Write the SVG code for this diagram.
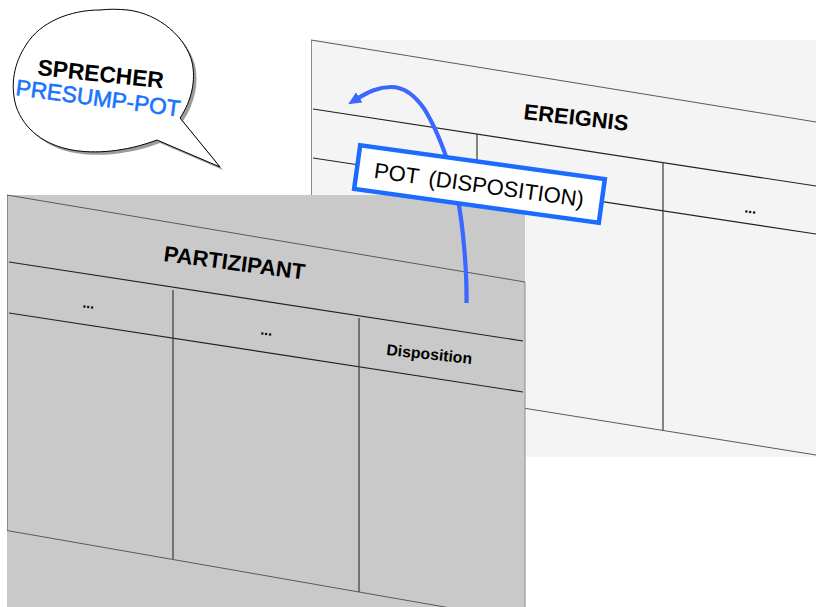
<svg xmlns="http://www.w3.org/2000/svg" width="816" height="607" viewBox="0 0 816 607">
  <style>
    .panel-edge { stroke: #8c8c8c; stroke-width: 1; fill: none; }
    .outer { stroke: #5a5a5a; stroke-width: 1; fill: none; }
    .inner { stroke: #222; stroke-width: 1.2; fill: none; }
    .divider { stroke: #3a3a3a; stroke-width: 1.2; fill: none; }
    .title { font-family: "Liberation Sans", Arial, sans-serif; font-weight: bold; font-size: 22px; fill: #000; }
    .dots { font-family: "Liberation Sans", Arial, sans-serif; font-weight: bold; font-size: 14px; fill: #000; text-anchor: middle; }
    .label { font-family: "Liberation Sans", Arial, sans-serif; font-size: 22px; fill: #000; }
  </style>
  <defs>
    <marker id="arrowhead" viewBox="0 0 13 12" refX="5" refY="6" markerWidth="13" markerHeight="12" markerUnits="userSpaceOnUse" orient="auto">
      <path d="M0,0 L13,6 L0,12 Z" fill="#3b66ff"/>
    </marker>
  </defs>

  <rect width="816" height="607" fill="#ffffff"/>

  <!-- Back table: EREIGNIS -->
  <g id="ereignis">
    <rect x="311" y="40" width="510" height="417" fill="#f4f4f4"/>
    <line class="panel-edge" x1="311.5" y1="40" x2="311.5" y2="457"/>
    <line class="outer" x1="311" y1="40" x2="816" y2="122"/>
    <line class="inner" x1="313" y1="109" x2="816" y2="186"/>
    <line class="inner" x1="313" y1="158" x2="816" y2="234"/>
    <line class="divider" x1="477" y1="134" x2="477" y2="300"/>
    <line class="divider" x1="663" y1="162" x2="663" y2="431"/>
    <line class="outer" x1="311" y1="374" x2="816" y2="455"/>
    <text class="title" transform="translate(523,119) rotate(6.5)">EREIGNIS</text>
    <text class="dots" transform="translate(750,213) rotate(8)">...</text>
  </g>

  <!-- Front table: PARTIZIPANT -->
  <g id="partizipant">
    <rect x="7" y="195" width="518" height="412" fill="#c9c9c9"/>
    <line class="panel-edge" x1="7.5" y1="195" x2="7.5" y2="530"/>
    <line class="panel-edge" x1="525" y1="282" x2="525" y2="607"/>
    <line class="outer" x1="7" y1="195" x2="525" y2="282"/>
    <line class="inner" x1="9" y1="262" x2="523" y2="341"/>
    <line class="inner" x1="9" y1="313" x2="523" y2="392"/>
    <line class="divider" x1="173" y1="290" x2="173" y2="559"/>
    <line class="divider" x1="359" y1="318" x2="359" y2="592"/>
    <line class="outer" x1="7" y1="530.5" x2="525" y2="621"/>
    <text class="title" transform="translate(163,261) rotate(7.5)">PARTIZIPANT</text>
    <text class="dots" transform="translate(88,308) rotate(8)">...</text>
    <text class="dots" transform="translate(266,335) rotate(8)">...</text>
    <text transform="translate(386,355) rotate(6)" font-family="'Liberation Sans', Arial, sans-serif" font-weight="bold" font-size="15.8" fill="#000">Disposition</text>
  </g>

  <!-- Connector: from the Disposition column up into EREIGNIS -->
  <g id="connectors">
    <path d="M466.5,303 C467,270 463,226 458,200 C452,170 440,135 425,110 C415,95 403,87 391,87 C378,87 368,92 355,100"
          fill="none" stroke="#3b66ff" stroke-width="4.2" stroke-linecap="butt" marker-end="url(#arrowhead)"/>
  </g>

  <!-- Connector label -->
  <g id="pot-label" transform="translate(479.5,184) rotate(7.9)">
    <rect x="-123.5" y="-22" width="247" height="44" fill="#ffffff" stroke="#1b6bff" stroke-width="4.5"/>
    <text class="label" x="-106" y="8.5" word-spacing="4">POT (DISPOSITION)</text>
  </g>

  <!-- Speech bubble -->
  <g id="sprecher">
    <path transform="translate(3,3)" fill="#9c9c9c"
          d="M100,10 C70,10 40,22 26,45 C14,63 10,85 16,106 C24,130 45,145 72,150 C95,154 125,152 157,140 L220,167 L180,118 C192,100 196,80 192,62 C186,38 160,14 128,10 C118,9 108,9 100,10 Z"/>
    <path fill="#ffffff" stroke="#000" stroke-width="1"
          d="M100,10 C70,10 40,22 26,45 C14,63 10,85 16,106 C24,130 45,145 72,150 C95,154 125,152 157,140 L220,167 L180,118 C192,100 196,80 192,62 C186,38 160,14 128,10 C118,9 108,9 100,10 Z"/>
    <text transform="translate(37,75) rotate(6)" font-family="'Liberation Sans', Arial, sans-serif" font-weight="bold" font-size="22.8" fill="#000">SPRECHER</text>
    <text transform="translate(15,95) rotate(7.5)" font-family="'Liberation Sans', Arial, sans-serif" font-size="22.6" fill="#1a73ff" stroke="#1a73ff" stroke-width="0.6">PRESUMP-POT</text>
  </g>
</svg>
